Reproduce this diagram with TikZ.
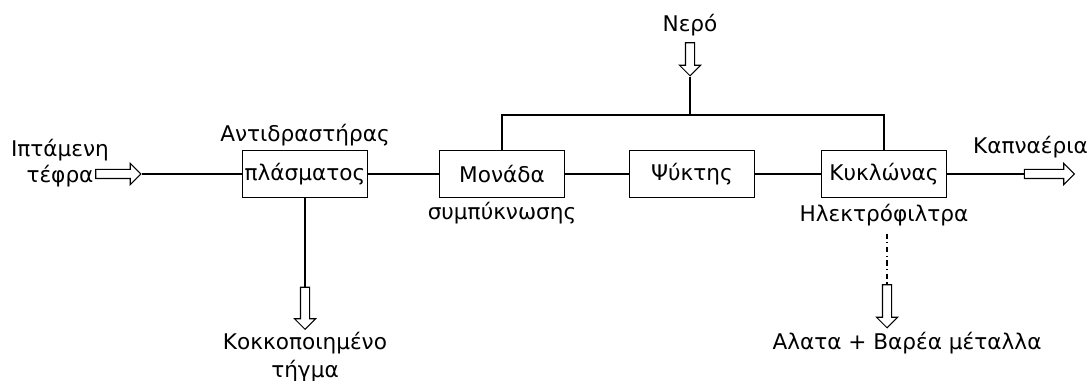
\documentclass[tikz,border=0pt]{standalone}
\usepackage{fontspec}
\setmainfont{DejaVu Sans}
\usetikzlibrary{positioning,shapes.arrows,calc}
\tikzset{
  unit/.style={draw, line width=0.7pt, minimum width=25mm, minimum height=9.4mm, inner sep=1pt},
  flow/.style={line width=0.6pt},
  harrow/.style={draw, line width=0.6pt, single arrow, inner sep=0.8mm, single arrow head extend=1.2mm},
  lbl/.style={align=center, inner sep=1pt},
}

\begin{document}
\begin{tikzpicture}[x=0.02cm, y=-0.02cm, font=\fontsize{12.3}{15}\selectfont]
  \useasboundingbox (0,0) rectangle (1092,381);
  % process units
  \node[unit] (plasma) at (305,174) {πλάσματος};
  \node[unit] (cond) at (502,174) {Μονάδα};
  \node[unit] (cool) at (692,174) {Ψύκτης};
  \node[unit] (cycl) at (884,174) {Κυκλώνας};
  % names written round the units
  \node[lbl, above=1pt of plasma] (plasmaT) {Αντιδραστήρας};
  \node[lbl, below=1pt of cond] (condB) {συμπύκνωσης};
  \node[lbl, below=2pt of cycl] (cyclB) {Ηλεκτρόφιλτρα};
  % feed
  \node[lbl] (ash) at (60,163) {Ιπτάμενη\\τέφρα};
  \node[harrow, minimum height=9mm] (ashArr) at (116,174) {};
  \draw[flow] (ashArr.tip) -- (plasma.west);
  % main line
  \draw[flow] (plasma) -- (cond);
  \draw[flow] (cond) -- (cool);
  \draw[flow] (cool) -- (cycl);
  % flue gas
  \node[harrow, minimum height=10mm] (gasArr) at (1047,174) {};
  \node[lbl, anchor=east] (gas) at (1090,147) {Καπναέρια};
  \draw[flow] (cycl.east) -- (gasArr.tail);
  % water
  \node[lbl] (water) at (690,25) {Νερό};
  \node[harrow, rotate=-90, minimum height=6.6mm] (waterArr) at (690,57) {};
  \coordinate (split) at (690,115);
  \draw[flow] (waterArr.tip) -- (split);
  \draw[flow] (cond.north) |- (split) -| (cycl.north);
  % slag
  \node[harrow, rotate=-90, minimum height=8.4mm] (slagArr) at (305,306) {};
  \node[lbl] (slag) at (305,357) {Κοκκοποιημένο\\[1pt]τήγμα};
  \draw[flow] (plasma.south) -- (slagArr.tail);
  % salts
  \node[harrow, rotate=-90, minimum height=8.6mm] (saltArr) at (887,304) {};
  \node[lbl] (salt) at (907,343) {Αλατα + Βαρέα μέταλλα};
  \draw[flow, dash dot] ($(cyclB.south -| saltArr.tail)+(0,6)$) -- (saltArr.tail);
\end{tikzpicture}
\end{document}
